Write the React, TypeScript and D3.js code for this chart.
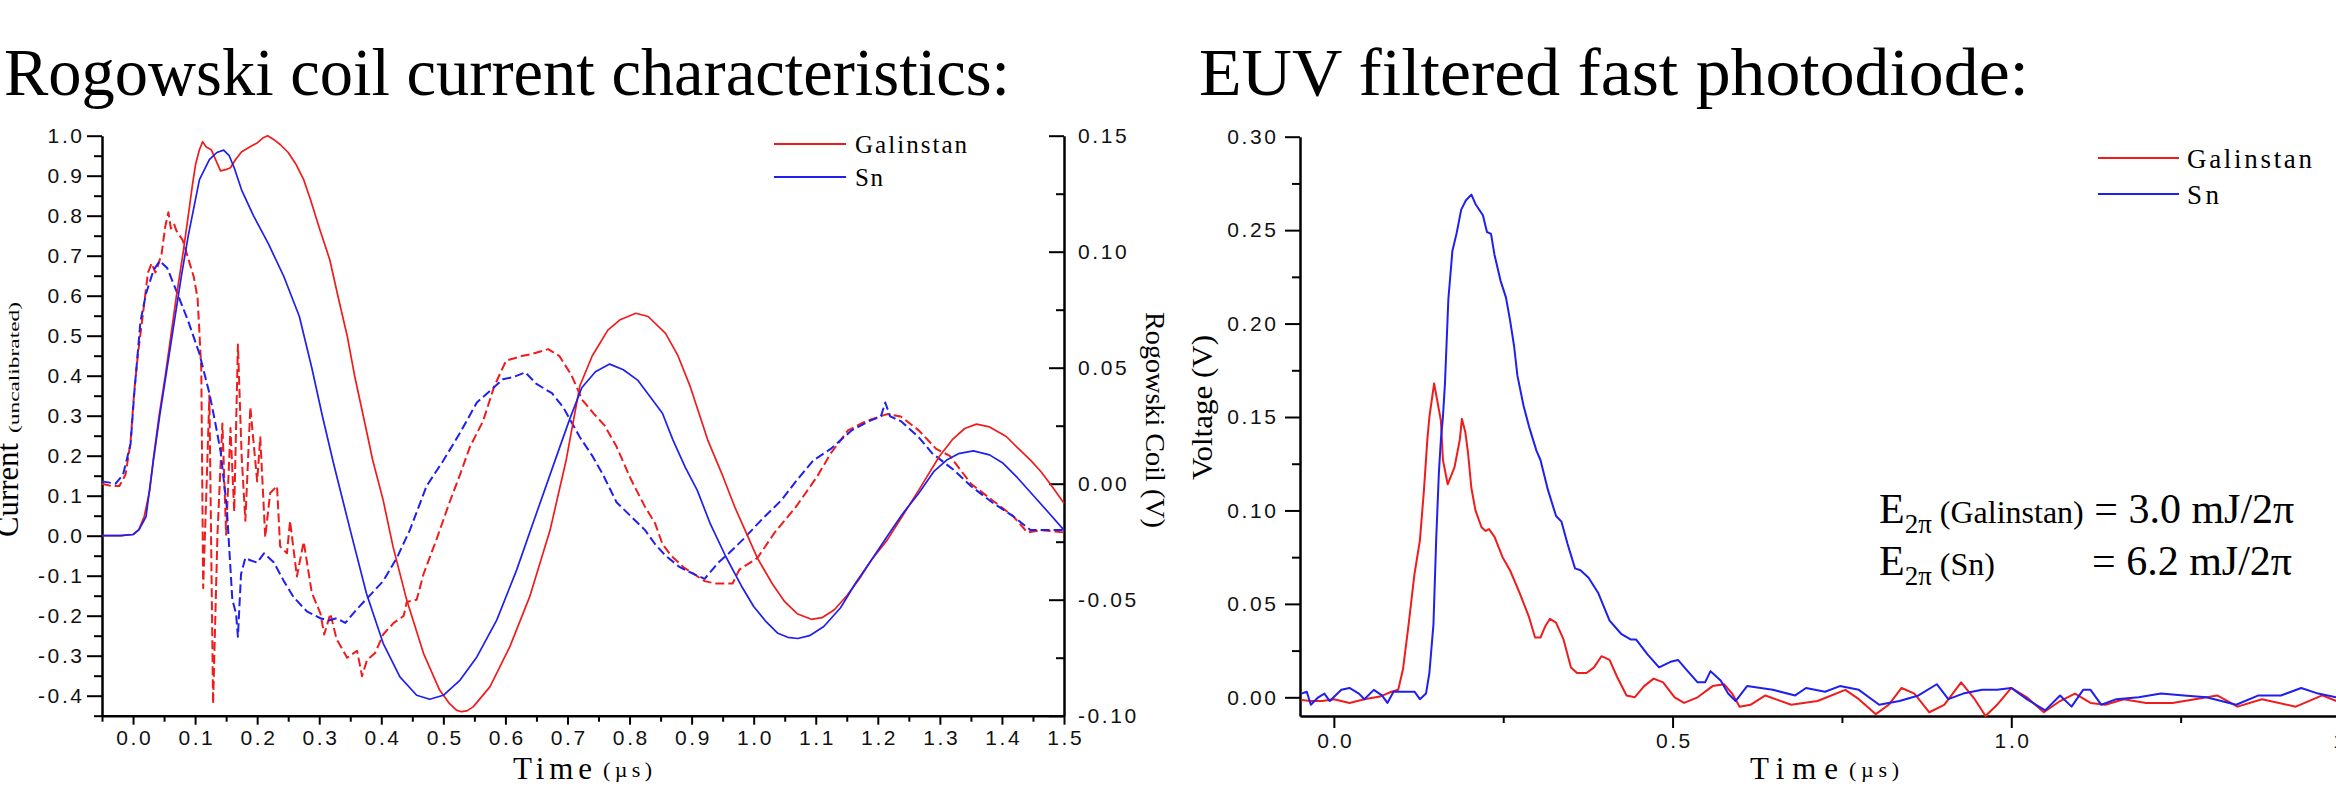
import React, { useRef, useEffect } from 'react'
import * as d3 from 'd3'

type Pt = [number, number]

// left panel: current (uncalibrated) vs time in µs
const galCurrent: Pt[] = [
  [-0.05, 0], [-0.02, 0], [0.0, 0.003], [0.009, 0.014], [0.018, 0.048], [0.027, 0.114], [0.033, 0.195],
  [0.042, 0.3], [0.052, 0.4], [0.061, 0.5], [0.07, 0.6], [0.08, 0.7], [0.089, 0.8], [0.096, 0.88],
  [0.101, 0.93], [0.107, 0.965], [0.112, 0.985], [0.118, 0.972], [0.126, 0.965], [0.133, 0.94],
  [0.141, 0.912], [0.149, 0.915], [0.157, 0.92], [0.165, 0.94], [0.175, 0.96], [0.188, 0.972],
  [0.2, 0.982], [0.21, 0.995], [0.217, 1.0], [0.227, 0.99], [0.237, 0.978], [0.25, 0.958],
  [0.262, 0.93], [0.275, 0.89], [0.286, 0.84], [0.3, 0.77], [0.317, 0.69], [0.33, 0.6], [0.345, 0.5],
  [0.357, 0.4], [0.377, 0.256], [0.386, 0.19], [0.403, 0.089], [0.419, -0.028], [0.441, -0.161],
  [0.468, -0.294], [0.494, -0.386], [0.51, -0.42], [0.521, -0.436], [0.529, -0.44], [0.538, -0.438],
  [0.548, -0.428], [0.575, -0.378], [0.607, -0.278], [0.639, -0.153], [0.672, 0.014], [0.698, 0.19],
  [0.72, 0.375], [0.74, 0.45], [0.765, 0.514], [0.785, 0.54], [0.81, 0.556], [0.83, 0.548],
  [0.858, 0.506], [0.878, 0.45], [0.898, 0.372], [0.926, 0.239], [0.95, 0.15], [0.97, 0.07],
  [0.99, 0.0], [1.006, -0.056], [1.03, -0.12], [1.05, -0.165], [1.07, -0.195], [1.093, -0.209],
  [1.11, -0.205], [1.13, -0.185], [1.15, -0.15], [1.169, -0.111], [1.19, -0.06], [1.215, -0.011],
  [1.24, 0.05], [1.266, 0.114], [1.299, 0.198], [1.32, 0.24], [1.34, 0.268], [1.359, 0.279],
  [1.38, 0.272], [1.407, 0.248], [1.425, 0.22], [1.446, 0.189], [1.463, 0.16], [1.48, 0.125], [1.5, 0.081],
]

const snCurrent: Pt[] = [
  [-0.05, 0], [-0.02, 0], [0.0, 0.003], [0.01, 0.016], [0.021, 0.048], [0.027, 0.12], [0.033, 0.19],
  [0.043, 0.3], [0.053, 0.4], [0.067, 0.54], [0.078, 0.65], [0.089, 0.75], [0.098, 0.82], [0.107, 0.89],
  [0.123, 0.94], [0.135, 0.958], [0.146, 0.964], [0.155, 0.95], [0.163, 0.92], [0.175, 0.864],
  [0.194, 0.8], [0.218, 0.73], [0.243, 0.648], [0.268, 0.548], [0.288, 0.42], [0.305, 0.3],
  [0.323, 0.181], [0.35, 0.014], [0.376, -0.144], [0.403, -0.269], [0.43, -0.353], [0.457, -0.399],
  [0.478, -0.409], [0.5, -0.399], [0.527, -0.361], [0.554, -0.303], [0.586, -0.211], [0.618, -0.086],
  [0.65, 0.056], [0.682, 0.197], [0.703, 0.289], [0.723, 0.37], [0.745, 0.41], [0.768, 0.429],
  [0.79, 0.415], [0.813, 0.389], [0.853, 0.306], [0.87, 0.239], [0.89, 0.17], [0.909, 0.114],
  [0.93, 0.03], [0.955, -0.052], [0.98, -0.125], [1.0, -0.177], [1.02, -0.215], [1.039, -0.244],
  [1.055, -0.254], [1.071, -0.257], [1.09, -0.25], [1.113, -0.227], [1.14, -0.18], [1.164, -0.119],
  [1.19, -0.06], [1.215, -0.002], [1.24, 0.055], [1.266, 0.106], [1.29, 0.16], [1.311, 0.189],
  [1.33, 0.205], [1.354, 0.212], [1.38, 0.202], [1.402, 0.181], [1.425, 0.145], [1.452, 0.098],
  [1.475, 0.058], [1.5, 0.014],
]

// Rogowski coil signal (V), right axis
const galCoil: Pt[] = [
  [-0.05, 0.0], [-0.035, -0.001], [-0.022, -0.001], [-0.012, 0.004], [-0.004, 0.018], [0.002, 0.04],
  [0.008, 0.056], [0.015, 0.071], [0.024, 0.091], [0.03, 0.095], [0.036, 0.091], [0.04, 0.094],
  [0.046, 0.099], [0.052, 0.111], [0.057, 0.117], [0.061, 0.11], [0.066, 0.112], [0.07, 0.109],
  [0.08, 0.105], [0.089, 0.097], [0.098, 0.089], [0.104, 0.08], [0.107, 0.065], [0.11, 0.049],
  [0.113, -0.045], [0.118, -0.005], [0.123, 0.038], [0.129, -0.095], [0.136, -0.022], [0.144, 0.026],
  [0.15, -0.022], [0.157, 0.024], [0.163, -0.012], [0.169, 0.06], [0.175, 0.012], [0.181, -0.016],
  [0.189, 0.033], [0.2, 0.001], [0.205, 0.02], [0.213, -0.023], [0.221, -0.004], [0.232, -0.001],
  [0.237, -0.027], [0.248, -0.03], [0.253, -0.016], [0.264, -0.04], [0.275, -0.025], [0.288, -0.047],
  [0.302, -0.056], [0.308, -0.065], [0.318, -0.056], [0.328, -0.067], [0.345, -0.075], [0.361, -0.072],
  [0.369, -0.083], [0.377, -0.076], [0.39, -0.073], [0.403, -0.065], [0.42, -0.06], [0.436, -0.057],
  [0.441, -0.051], [0.457, -0.05], [0.468, -0.039], [0.489, -0.024], [0.51, -0.008], [0.527, 0.004],
  [0.543, 0.016], [0.564, 0.027], [0.582, 0.042], [0.601, 0.053], [0.626, 0.055], [0.644, 0.056],
  [0.669, 0.058], [0.687, 0.055], [0.706, 0.047], [0.724, 0.036], [0.743, 0.03], [0.76, 0.025],
  [0.779, 0.016], [0.802, 0.002], [0.825, -0.01], [0.841, -0.017], [0.853, -0.026], [0.867, -0.031],
  [0.887, -0.036], [0.904, -0.039], [0.921, -0.042], [0.938, -0.043], [0.966, -0.043], [0.977, -0.037],
  [1.006, -0.032], [1.034, -0.021], [1.068, -0.01], [1.102, 0.003], [1.124, 0.013], [1.152, 0.023],
  [1.181, 0.027], [1.215, 0.03], [1.237, 0.029], [1.266, 0.023], [1.294, 0.015], [1.316, 0.012],
  [1.35, 0.0], [1.384, -0.007], [1.418, -0.014], [1.441, -0.021], [1.463, -0.02], [1.5, -0.021],
]

const snCoil: Pt[] = [
  [-0.05, 0.001], [-0.028, 0.0], [-0.016, 0.004], [-0.004, 0.017], [0.002, 0.039], [0.012, 0.07],
  [0.021, 0.082], [0.033, 0.092], [0.043, 0.096], [0.055, 0.093], [0.07, 0.083], [0.089, 0.07],
  [0.107, 0.056], [0.123, 0.039], [0.132, 0.027], [0.141, 0.014], [0.151, -0.01], [0.16, -0.05],
  [0.166, -0.056], [0.169, -0.066], [0.174, -0.039], [0.181, -0.032], [0.189, -0.033], [0.2, -0.034],
  [0.211, -0.03], [0.227, -0.034], [0.243, -0.042], [0.259, -0.049], [0.28, -0.055], [0.302, -0.058],
  [0.315, -0.059], [0.328, -0.058], [0.342, -0.06], [0.361, -0.054], [0.382, -0.048], [0.403, -0.042],
  [0.425, -0.032], [0.446, -0.02], [0.473, -0.001], [0.5, 0.01], [0.527, 0.022], [0.554, 0.035],
  [0.575, 0.04], [0.596, 0.045], [0.613, 0.046], [0.632, 0.048], [0.65, 0.043], [0.675, 0.039],
  [0.693, 0.033], [0.72, 0.02], [0.74, 0.012], [0.757, 0.004], [0.779, -0.008], [0.802, -0.014],
  [0.825, -0.02], [0.841, -0.026], [0.858, -0.031], [0.881, -0.036], [0.904, -0.039], [0.921, -0.041],
  [0.943, -0.034], [0.96, -0.03], [0.983, -0.024], [1.011, -0.016], [1.045, -0.007], [1.068, 0.001],
  [1.096, 0.01], [1.124, 0.015], [1.158, 0.023], [1.186, 0.027], [1.205, 0.029], [1.212, 0.035],
  [1.22, 0.029], [1.237, 0.027], [1.266, 0.02], [1.288, 0.013], [1.322, 0.006], [1.35, -0.001],
  [1.384, -0.008], [1.418, -0.014], [1.446, -0.02], [1.475, -0.02], [1.5, -0.02],
]

// right panel: EUV photodiode voltage (V)
const galEuv: Pt[] = [
  [-0.048, -0.0014], [-0.034, -0.002], [-0.017, -0.002], [0, -0.001], [0.023, -0.003], [0.045, -0.001],
  [0.068, 0.0004], [0.085, 0.003], [0.095, 0.004], [0.102, 0.015], [0.11, 0.038], [0.119, 0.066],
  [0.127, 0.084], [0.133, 0.111], [0.138, 0.138], [0.141, 0.15], [0.148, 0.168], [0.152, 0.16],
  [0.158, 0.148], [0.161, 0.127], [0.168, 0.114], [0.178, 0.123], [0.186, 0.138], [0.189, 0.149],
  [0.194, 0.142], [0.198, 0.131], [0.203, 0.112], [0.209, 0.1], [0.218, 0.091], [0.224, 0.089],
  [0.229, 0.09], [0.237, 0.086], [0.249, 0.075], [0.26, 0.068], [0.274, 0.056], [0.288, 0.043],
  [0.297, 0.032], [0.305, 0.032], [0.312, 0.038], [0.319, 0.042], [0.328, 0.04], [0.339, 0.031],
  [0.35, 0.016], [0.359, 0.013], [0.373, 0.013], [0.384, 0.016], [0.395, 0.022], [0.407, 0.02],
  [0.418, 0.011], [0.432, 0.001], [0.444, 0.0], [0.458, 0.006], [0.472, 0.01], [0.486, 0.008],
  [0.503, 0.0], [0.517, -0.003], [0.537, 0.0], [0.559, 0.006], [0.576, 0.007], [0.588, 0.002],
  [0.599, -0.005], [0.615, -0.004], [0.637, 0.001], [0.675, -0.004], [0.714, -0.002], [0.755, 0.004],
  [0.775, -0.001], [0.8, -0.009], [0.819, -0.004], [0.838, 0.005], [0.857, 0.002], [0.879, -0.008],
  [0.901, -0.004], [0.926, 0.008], [0.946, -0.001], [0.962, -0.01], [0.979, -0.004], [1.0, 0.005],
  [1.023, 0.0], [1.048, -0.008], [1.072, -0.002], [1.094, 0.002], [1.117, -0.003], [1.139, -0.004],
  [1.166, -0.001], [1.199, -0.003], [1.238, -0.003], [1.271, -0.001], [1.304, 0.001], [1.334, -0.005],
  [1.37, -0.001], [1.42, -0.005], [1.459, 0.001], [1.48, -0.002], [1.5, 0.0],
]

const snEuv: Pt[] = [
  [-0.048, 0.002], [-0.04, 0.003], [-0.034, -0.004], [-0.023, 0.0], [-0.014, 0.002], [-0.006, -0.002],
  [0.011, 0.004], [0.023, 0.005], [0.037, 0.002], [0.045, -0.001], [0.059, 0.004], [0.071, 0.001],
  [0.079, -0.003], [0.088, 0.003], [0.102, 0.003], [0.119, 0.003], [0.127, -0.001], [0.136, 0.002],
  [0.141, 0.013], [0.147, 0.039], [0.151, 0.084], [0.155, 0.12], [0.158, 0.138], [0.161, 0.15],
  [0.164, 0.168], [0.169, 0.213], [0.175, 0.239], [0.181, 0.248], [0.188, 0.261], [0.195, 0.266],
  [0.203, 0.269], [0.209, 0.264], [0.22, 0.258], [0.226, 0.249], [0.232, 0.248], [0.237, 0.237],
  [0.246, 0.223], [0.254, 0.214], [0.26, 0.202], [0.266, 0.188], [0.271, 0.172], [0.28, 0.156],
  [0.288, 0.145], [0.299, 0.132], [0.305, 0.127], [0.316, 0.111], [0.328, 0.097], [0.336, 0.094],
  [0.345, 0.082], [0.356, 0.069], [0.364, 0.068], [0.376, 0.064], [0.39, 0.056], [0.407, 0.041],
  [0.424, 0.034], [0.438, 0.031], [0.446, 0.031], [0.463, 0.023], [0.48, 0.016], [0.497, 0.019],
  [0.508, 0.02], [0.52, 0.015], [0.537, 0.008], [0.548, 0.008], [0.556, 0.014], [0.571, 0.009],
  [0.582, 0.002], [0.593, -0.002], [0.61, 0.006], [0.63, 0.005], [0.648, 0.004], [0.681, 0.001],
  [0.697, 0.005], [0.725, 0.003], [0.747, 0.006], [0.775, 0.004], [0.805, -0.004], [0.835, -0.002],
  [0.863, 0.001], [0.89, 0.007], [0.907, -0.001], [0.929, 0.002], [0.957, 0.004], [0.979, 0.004],
  [1.0, 0.005], [1.023, -0.001], [1.05, -0.007], [1.072, 0.001], [1.089, -0.005], [1.106, 0.004],
  [1.117, 0.004], [1.133, -0.004], [1.155, -0.001], [1.188, 0.0], [1.221, 0.002], [1.255, 0.001],
  [1.288, 0.0], [1.332, -0.004], [1.365, 0.001], [1.398, 0.001], [1.428, 0.005], [1.453, 0.002],
  [1.48, 0.0], [1.5, 0.001],
]

// ticks
const currentTicks = [-0.4, -0.3, -0.2, -0.1, 0.0, 0.1, 0.2, 0.3, 0.4, 0.5, 0.6, 0.7, 0.8, 0.9, 1.0]
const currentMinor = [-0.45, -0.35, -0.25, -0.15, -0.05, 0.05, 0.15, 0.25, 0.35, 0.45, 0.55, 0.65, 0.75, 0.85, 0.95]
const coilTicks = [-0.1, -0.05, 0.0, 0.05, 0.1, 0.15]
const coilMinor = [-0.075, -0.025, 0.025, 0.075, 0.125]
const timeTicksA = [0.0, 0.1, 0.2, 0.3, 0.4, 0.5, 0.6, 0.7, 0.8, 0.9, 1.0, 1.1, 1.2, 1.3, 1.4, 1.5]
const timeMinorA = [-0.05, 0.05, 0.15, 0.25, 0.35, 0.45, 0.55, 0.65, 0.75, 0.85, 0.95, 1.05, 1.15, 1.25, 1.35, 1.45]
const voltTicks = [0.0, 0.05, 0.1, 0.15, 0.2, 0.25, 0.3]
const voltMinor = [0.025, 0.075, 0.125, 0.175, 0.225, 0.275]
const timeTicksB = [0.0, 0.5, 1.0, 1.5]
const timeMinorB = [0.25, 0.75, 1.25]

const RED = '#f01c1c'
const BLUE = '#1f1fef'
const SANS = '"Liberation Sans", Arial, sans-serif'
const SERIF = '"Liberation Serif", "Times New Roman", serif'
const LS = 2.6

export default function App() {
  const gRef = useRef<SVGGElement>(null)

  useEffect(() => {
    const root = d3.select(gRef.current)
    root.selectAll('*').remove()

    const xA = d3.scaleLinear().domain([-0.05, 1.5]).range([102, 1064])
    const yA = d3.scaleLinear().domain([-0.45, 1.0]).range([715.7, 135.7])
    const yCoil = d3.scaleLinear().domain([-0.1, 0.15]).range([715.7, 135.7])
    const xB = d3.scaleLinear().domain([-0.05, 1.5]).range([1300, 2350])
    const yB = d3.scaleLinear().domain([-0.01, 0.3]).range([716, 136.7])

    const drawAxis = (gen: any, tx: number, ty: number, minor = false, dx = 0) => {
      const g = root.append('g').attr('transform', `translate(${tx},${ty})`).call(gen)
      g.attr('font-family', SANS).attr('font-size', 21)
      if (minor) g.select('.domain').remove()
      else g.select('.domain').attr('stroke', '#000').attr('stroke-width', 2.5)
      g.selectAll('.tick line').attr('stroke', '#000').attr('stroke-width', 2)
      g.selectAll('.tick text').attr('fill', '#111').attr('letter-spacing', LS).attr('dx', dx)
      return g
    }
    const blank = () => ''

    // left panel axes
    drawAxis(d3.axisLeft(yA).tickValues(currentTicks).tickSize(15).tickSizeOuter(0).tickPadding(5)
      .tickFormat((d: any) => d.toFixed(1)), 102, 0, false, LS)
    drawAxis(d3.axisLeft(yA).tickValues(currentMinor).tickSize(8).tickFormat(blank), 102, 0, true)
    drawAxis(d3.axisRight(yCoil).tickValues(coilTicks).tickSizeInner(-15).tickSizeOuter(0).tickPadding(14)
      .tickFormat((d: any) => d.toFixed(2)), 1064, 0)
    drawAxis(d3.axisRight(yCoil).tickValues(coilMinor).tickSizeInner(-8).tickSizeOuter(0).tickFormat(blank), 1064, 0, true)
    drawAxis(d3.axisBottom(xA).tickValues(timeTicksA).tickSize(9).tickSizeOuter(0).tickPadding(5)
      .tickFormat((d: any) => d.toFixed(1)), 0, 715.7, false, LS / 2)
    drawAxis(d3.axisBottom(xA).tickValues(timeMinorA).tickSize(6).tickFormat(blank), 0, 715.7, true)

    // right panel axes
    drawAxis(d3.axisLeft(yB).tickValues(voltTicks).tickSize(15).tickSizeOuter(0).tickPadding(9)
      .tickFormat((d: any) => d.toFixed(2)), 1300, 0, false, LS)
    drawAxis(d3.axisLeft(yB).tickValues(voltMinor).tickSize(8).tickFormat(blank), 1300, 0, true)
    drawAxis(d3.axisBottom(xB).tickValues(timeTicksB).tickSize(12).tickSizeOuter(0).tickPadding(5)
      .tickFormat((d: any) => d.toFixed(1)), 0, 716, false, LS / 2)
    drawAxis(d3.axisBottom(xB).tickValues(timeMinorB).tickSize(7).tickFormat(blank), 0, 716, true)

    const plot = (data: Pt[], x: any, y: any, color: string, width: number, dash?: string) => {
      root.append('path').datum(data)
        .attr('d', d3.line<Pt>().x(d => x(d[0])).y(d => y(d[1])))
        .attr('fill', 'none').attr('stroke', color).attr('stroke-width', width)
        .attr('stroke-linejoin', 'round')
        .attr('stroke-dasharray', dash ?? null)
    }

    plot(galCoil, xA, yCoil, RED, 2, '9,4')
    plot(snCoil, xA, yCoil, BLUE, 2, '9,4')
    plot(galCurrent, xA, yA, RED, 1.7)
    plot(snCurrent, xA, yA, BLUE, 1.7)

    plot(galEuv, xB, yB, RED, 2)
    plot(snEuv, xB, yB, BLUE, 2)
  }, [])

  return (
    <svg width={2336} height={791} style={{ position: 'absolute', left: 0, top: 0, background: '#fff' }}>
      <text x={4} y={95} fontFamily={SERIF} fontSize={68} textLength={1006} lengthAdjust="spacingAndGlyphs">
        Rogowski coil current characteristics:
      </text>
      <text x={1199} y={95} fontFamily={SERIF} fontSize={68} textLength={830} lengthAdjust="spacingAndGlyphs">
        EUV filtered fast photodiode:
      </text>

      <g ref={gRef} />

      {/* left panel labels */}
      <text transform="translate(18,537) rotate(-90)" fontFamily={SERIF} fontSize={31} textLength={94} lengthAdjust="spacingAndGlyphs">Current</text>
      <text transform="translate(19,433) rotate(-90)" fontFamily={SERIF} fontSize={14} textLength={131} lengthAdjust="spacingAndGlyphs">(uncalibrated)</text>
      <text transform="translate(1146,312) rotate(90)" fontFamily={SERIF} fontSize={28} textLength={216} lengthAdjust="spacingAndGlyphs">Rogowski Coil (V)</text>
      <text x={513} y={779} fontFamily={SERIF} fontSize={31} textLength={79} lengthAdjust="spacing">Time</text>
      <text x={603} y={777} fontFamily={SERIF} fontSize={22} textLength={49} lengthAdjust="spacing">(µs)</text>

      <line x1={774} x2={846} y1={144} y2={144} stroke={RED} strokeWidth={1.8} />
      <line x1={774} x2={846} y1={177} y2={177} stroke={BLUE} strokeWidth={1.8} />
      <text x={855} y={153} fontFamily={SERIF} fontSize={25} textLength={112} lengthAdjust="spacing">Galinstan</text>
      <text x={855} y={186} fontFamily={SERIF} fontSize={25} textLength={28} lengthAdjust="spacing">Sn</text>

      {/* right panel labels */}
      <text transform="translate(1212,480) rotate(-90)" fontFamily={SERIF} fontSize={30} textLength={145} lengthAdjust="spacingAndGlyphs">Voltage (V)</text>
      <text x={1750} y={779} fontFamily={SERIF} fontSize={31} textLength={88} lengthAdjust="spacing">Time</text>
      <text x={1849} y={777} fontFamily={SERIF} fontSize={22} textLength={50} lengthAdjust="spacing">(µs)</text>

      <line x1={2098} x2={2179} y1={158} y2={158} stroke={RED} strokeWidth={2} />
      <line x1={2098} x2={2179} y1={194} y2={194} stroke={BLUE} strokeWidth={2} />
      <text x={2187} y={168} fontFamily={SERIF} fontSize={27} textLength={125} lengthAdjust="spacing">Galinstan</text>
      <text x={2187} y={204} fontFamily={SERIF} fontSize={27} textLength={32} lengthAdjust="spacing">Sn</text>

      <text x={1879} y={523} fontFamily={SERIF} fontSize={42}>
        E<tspan fontSize={27} dy={10}>2π</tspan>
        <tspan fontSize={32} dy={-10}> (Galinstan)</tspan>
        <tspan> = 3.0 mJ/2π</tspan>
      </text>
      <text x={1879} y={575} fontFamily={SERIF} fontSize={42}>
        E<tspan fontSize={27} dy={10}>2π</tspan>
        <tspan fontSize={32} dy={-10}> (Sn)</tspan>
        <tspan x={2092}>= 6.2 mJ/2π</tspan>
      </text>
    </svg>
  )
}
